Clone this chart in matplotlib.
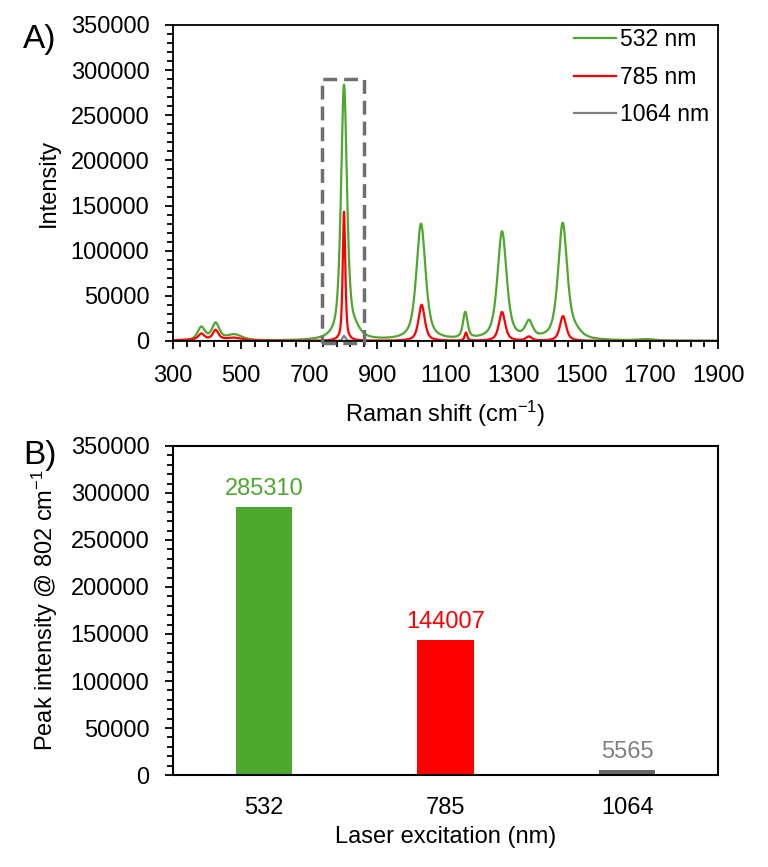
import numpy as np
from matplotlib import pyplot as plt
from matplotlib.patches import Rectangle

# -------------------------------------------------------------------
# Panel B data (peak intensity at 802 cm-1)
lasers = ['532', '785', '1064']
peak_802 = [285310, 144007, 5565]
bar_colors = ['#4ea72e', '#ff0000', '#666666']
label_colors = ['#4ea72e', '#ff0000', '#808080']

# Panel A data: bands (position cm-1, height, fwhm)
green_pos = [383, 425, 480, 802, 835, 1028, 1158, 1266, 1345, 1444, 1482, 1690]
green_height = [14500, 18500, 6500, 282000, 7000, 129000, 29000, 120000, 18000, 129000, 6000, 1500]
green_fwhm = [26, 26, 55, 21, 35, 32, 16, 32, 26, 32, 40, 60]

red_pos = [383, 425, 480, 802, 1030, 1160, 1266, 1345, 1445, 400]
red_height = [6500, 10500, 2500, 143000, 40000, 9000, 32000, 4500, 27500, 1500]
red_fwhm = [20, 20, 50, 9, 22, 9, 22, 20, 22, 200]

gray_pos = [802]
gray_height = [5565]
gray_fwhm = [10]

shift_min, shift_max = 300, 1900


# -------------------------------------------------------------------
def spectrum(x, pos, height, fwhm, eta=0.65):
    y = np.zeros_like(x)
    for p, h, w in zip(pos, height, fwhm):
        lor = 1 / (1 + ((x - p) / (w / 2)) ** 2)
        gau = np.exp(-4 * np.log(2) * ((x - p) / w) ** 2)
        y += h * (eta * lor + (1 - eta) * gau)
    return y


shift = np.arange(shift_min, shift_max + 1, 1.0)
green = spectrum(shift, green_pos, green_height, green_fwhm)
red = spectrum(shift, red_pos, red_height, red_fwhm)
gray = spectrum(shift, gray_pos, gray_height, gray_fwhm)

# -------------------------------------------------------------------
plt.rcParams['font.family'] = ['Liberation Sans', 'DejaVu Sans']
plt.rcParams['mathtext.default'] = 'regular'
fs = 17

fig = plt.figure(figsize=(7.68, 8.67), dpi=100)
ax1 = fig.add_axes([0.2253, 0.6067, 0.7096, 0.3645])
ax2 = fig.add_axes([0.2253, 0.1061, 0.7096, 0.3795])

# ---- A) spectra ----
ax1.plot(shift, green, color='#4ea72e', lw=1.6, label='532 nm')
ax1.plot(shift, red, color='#ff0000', lw=1.6, label='785 nm')
ax1.plot(shift, gray, color='#7f7f7f', lw=1.6, label='1064 nm')
ax1.add_patch(Rectangle((737, -2000), 125, 292000, fill=False, ec='#6f6f6f',
                        lw=2.5, ls=(0, (4, 2)), clip_on=False, zorder=5))

ax1.set_xlim(shift_min, shift_max)
ax1.set_ylim(0, 350000)
ax1.set_xticks(np.arange(300, 1901, 200))
ax1.set_xticks(np.arange(300, 1901, 40), minor=True)
ax1.set_yticks(np.arange(0, 350001, 50000))
ax1.set_yticks(np.arange(0, 350001, 10000), minor=True)
ax1.tick_params(which='major', length=6, width=1.3, labelsize=fs, pad=11)
ax1.tick_params(which='minor', length=4, width=1.3)
ax1.set_xlabel('Raman shift (cm$^{-1}$)', fontsize=fs, labelpad=9)
ax1.set_ylabel('Intensity', fontsize=fs, labelpad=8)
for s in ax1.spines.values():
    s.set_linewidth(1.3)
ax1.legend(loc='upper left', bbox_to_anchor=(0.73, 1.0), frameon=False,
           fontsize=16.5, handlelength=1.8, handletextpad=0.2, labelspacing=0.62,
           borderpad=0.15, borderaxespad=0)
fig.text(0.03, 0.955, 'A)', fontsize=24, va='center')

# ---- B) bars ----
xpos = np.arange(len(lasers))
bars = ax2.bar(xpos, peak_802, width=0.31, color=bar_colors)
ax2.set_xlim(-0.5, len(lasers) - 0.5)
ax2.set_ylim(0, 350000)
ax2.set_xticks(xpos, lasers)
ax2.set_yticks(np.arange(0, 350001, 50000))
ax2.set_yticks(np.arange(0, 350001, 10000), minor=True)
ax2.tick_params(axis='y', which='major', length=6, width=1.3, labelsize=fs, pad=11)
ax2.tick_params(axis='y', which='minor', length=4, width=1.3)
ax2.tick_params(axis='x', length=0, labelsize=fs, pad=16)
ax2.set_xlabel('Laser excitation (nm)', fontsize=fs, labelpad=5)
ax2.set_ylabel('Peak intensity @ 802 cm$^{-1}$', fontsize=fs, labelpad=8)
for s in ax2.spines.values():
    s.set_linewidth(1.5)
texts = ax2.bar_label(bars, labels=[str(v) for v in peak_802], padding=5, fontsize=fs)
for t, c in zip(texts, label_colors):
    t.set_color(c)
fig.text(0.03, 0.475, 'B)', fontsize=24, va='center')

plt.savefig('out.png', dpi=100)
